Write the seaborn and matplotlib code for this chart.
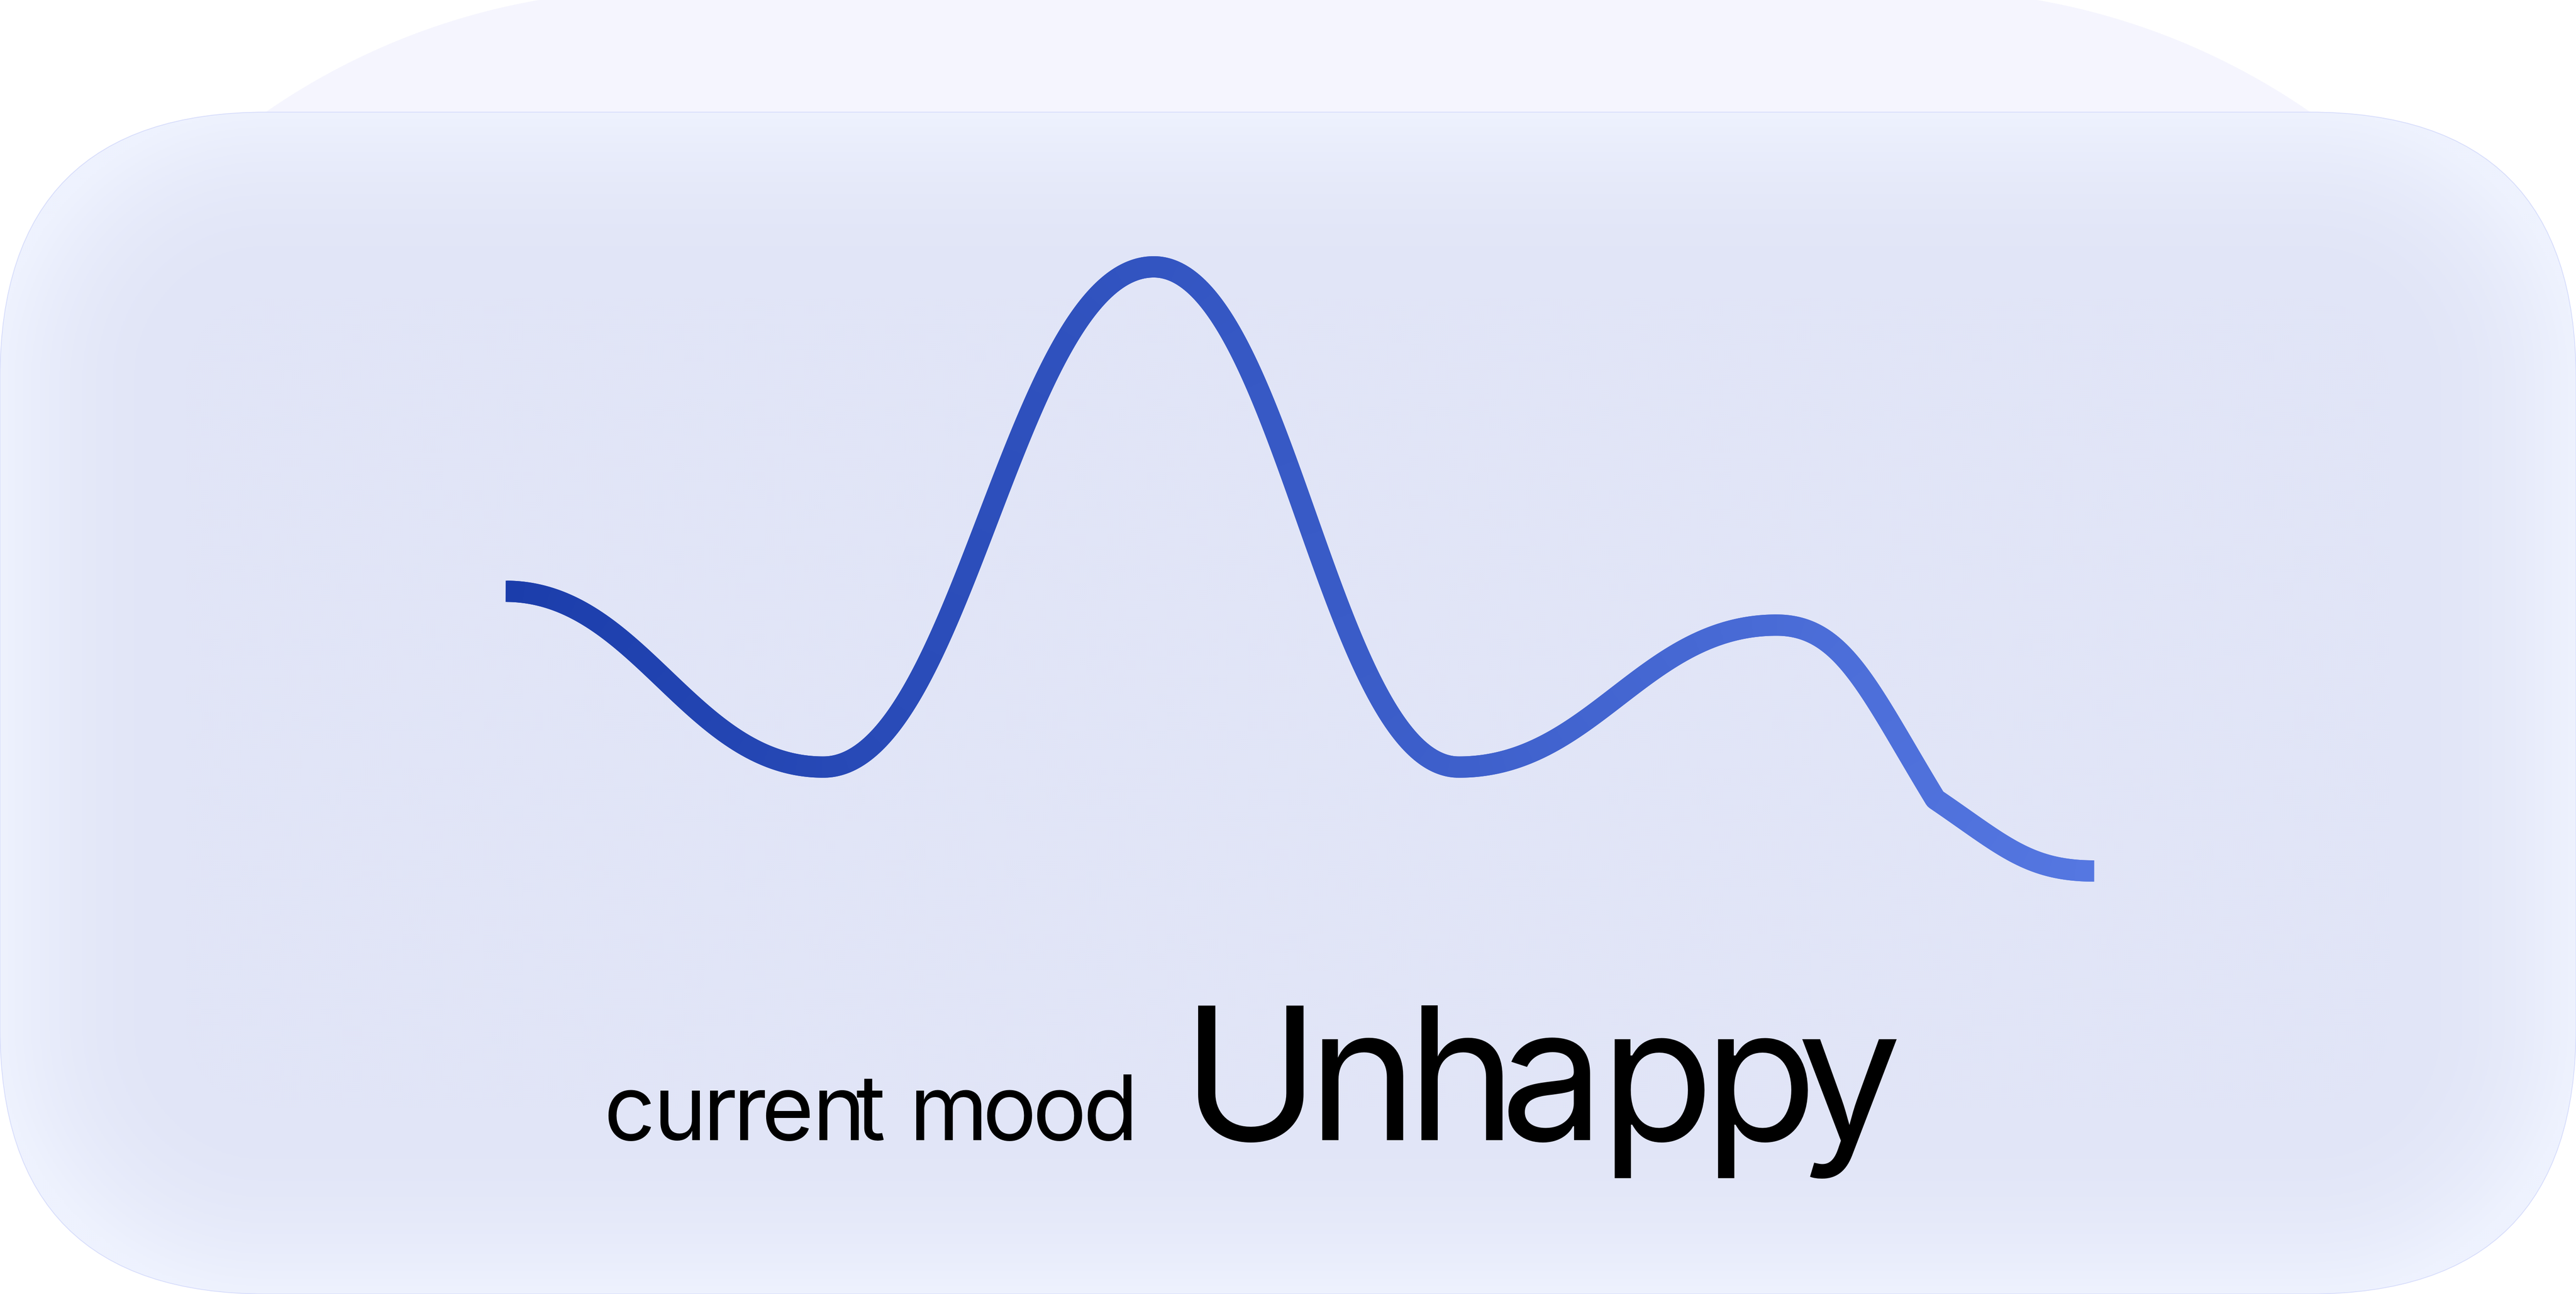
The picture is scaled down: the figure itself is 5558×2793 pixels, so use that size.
import numpy as np
import matplotlib
matplotlib.use("Agg")
import matplotlib.pyplot as plt
import matplotlib.font_manager as fm
import seaborn as sns
from matplotlib.collections import LineCollection
from matplotlib.patches import FancyBboxPatch, Polygon
from matplotlib.colors import to_rgb
from matplotlib.ft2font import FT2Font

# mood log: day offset and mood score (0 = worst, 10 = best)
days = [0, 1, 2.04, 3, 4, 4.5, 5]
mood = [4.63, 1.72, 10.0, 1.72, 4.07, 1.19, 0.0]
caption = "current mood"
mood_label = "Unhappy"

W, H = 5558, 2793
DPI = 100
CARD_TOP = 242

sns.set_theme(style="white")
plt.rcParams["font.family"] = ["Inter", "DejaVu Sans"]

fig = plt.figure(figsize=(W / DPI, H / DPI), dpi=DPI)
fig.patch.set_facecolor("white")

# background card, drawn in pixel units (y down)
bg = fig.add_axes([0, 0, 1, 1])
bg.axis("off")

# lighter tab peeking out behind the card (big round corners)
R, tcx, tcy = 1480, 1417, 1458
ang = np.linspace(np.pi, 1.5 * np.pi, 200)
left = np.c_[tcx + R * np.cos(ang), tcy + R * np.sin(ang)]
right = np.c_[W - left[::-1, 0], left[::-1, 1]]
bg.add_patch(Polygon(np.vstack([left, right]), closed=True,
                     facecolor="#F5F5FE", edgecolor="none", zorder=0))

card = FancyBboxPatch((0, CARD_TOP), W, H - CARD_TOP,
                      boxstyle="round,pad=0,rounding_size=575",
                      facecolor="#E1E5F7", edgecolor="none", zorder=1)
bg.add_patch(card)

# soft inner glow: lighter near the card border
step = 4
xs = np.arange(0, W, step) + step / 2
ys = np.arange(CARD_TOP, H, step) + step / 2
X, Y = np.meshgrid(xs, ys)
r = 575
hx, hy = W / 2, (H - CARD_TOP) / 2
qx = np.abs(X - W / 2) - (hx - r)
qy = np.abs(Y - (CARD_TOP + hy)) - (hy - r)
d = np.hypot(np.maximum(qx, 0), np.maximum(qy, 0)) + np.minimum(np.maximum(qx, qy), 0) - r
t = np.clip(-d / 400, 0, 1)
t = 1 - (1 - t) ** 2
edge = np.array(to_rgb("#EEF2FE"))
centre = np.array(to_rgb("#E1E5F7"))
img = edge + (centre - edge) * t[..., None]
im = bg.imshow(img, extent=(0, W, H, CARD_TOP), origin="upper",
               interpolation="bilinear", aspect="auto", zorder=2)
im.set_clip_path(card)

bg.add_patch(FancyBboxPatch((0, CARD_TOP), W, H - CARD_TOP,
                            boxstyle="round,pad=0,rounding_size=575",
                            facecolor="none", edgecolor="#D6DCFB", lw=1.2, zorder=3))
bg.set_xlim(0, W)
bg.set_ylim(H, 0)


def tracked_text(axis, s, x_ink, x_ink_end, y_base, size_pt, **kw):
    # lay the string out glyph by glyph so the letter spacing can be set
    font = FT2Font(fm.findfont(fm.FontProperties(family="Inter")))
    font.set_size(size_pt, DPI)
    pen, lay = 0.0, []
    for c in s:
        g = font.load_char(ord(c))
        lay.append((pen, g.horiBearingX / 64, g.width / 64))
        pen += g.linearHoriAdvance / 65536
    lsb0 = lay[0][1]
    natural = lay[-1][0] + lay[-1][1] + lay[-1][2] - lsb0
    track = (x_ink_end - x_ink - natural) / (len(s) - 1)
    for i, c in enumerate(s):
        if c == " ":
            continue
        px = x_ink + lay[i][0] + lay[i][1] - lsb0 + i * track
        axis.text(px, y_base, c, fontsize=size_pt, ha="left", va="baseline", **kw)


tracked_text(bg, caption, 1302, 2430, 2461, 140, color="black", zorder=5)
tracked_text(bg, mood_label, 2550, 4081, 2461, 288, color="black", zorder=5)

# mood line
ax = fig.add_axes([0, 0, 1, 1])
ax.patch.set_alpha(0)
ax.axis("off")
ax.set_xlim(-1.5915, 6.5164)
ax.set_ylim(-7.0015, 14.417)

x = np.asarray(days, float)
y = np.asarray(mood, float)
s_in = np.zeros(len(x))
s_out = np.zeros(len(x))
# flat tangents at the turning points, the mid-descent reading keeps its legs' slopes
j = 5
s_in[j] = 1.5 * (y[j] - y[j - 1]) / (x[j] - x[j - 1])
s_out[j] = 1.5 * (y[j + 1] - y[j]) / (x[j + 1] - x[j])

k = 0.42
tt = np.linspace(0, 1, 300)[:, None]
pts = []
for i in range(len(x) - 1):
    h = x[i + 1] - x[i]
    p0 = np.array([x[i], y[i]])
    p3 = np.array([x[i + 1], y[i + 1]])
    p1 = p0 + k * h * np.array([1, s_out[i]])
    p2 = p3 - k * h * np.array([1, s_in[i + 1]])
    seg = (1 - tt) ** 3 * p0 + 3 * (1 - tt) ** 2 * tt * p1 + 3 * (1 - tt) * tt ** 2 * p2 + tt ** 3 * p3
    pts.append(seg if i == 0 else seg[1:])
pts = np.vstack(pts)

cmap = sns.blend_palette(["#1B3DAB", "#5577E1"], as_cmap=True)
segs = np.stack([pts[:-2], pts[1:-1], pts[2:]], axis=1)
u = (segs[:, 1, 0] - x[0]) / (x[-1] - x[0])
lc = LineCollection(segs, colors=cmap(u), linewidths=33.1,
                    capstyle="butt", joinstyle="round", zorder=4)
ax.add_collection(lc)

fig.savefig("out.png", dpi=DPI)
